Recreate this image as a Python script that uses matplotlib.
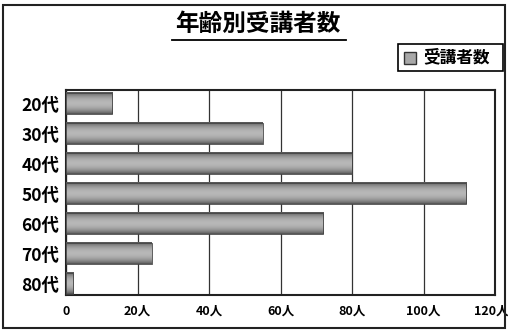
import numpy as np
import matplotlib
matplotlib.use("Agg")
import matplotlib.pyplot as plt
from matplotlib.patches import Rectangle
from matplotlib.lines import Line2D
from matplotlib.transforms import ScaledTranslation

plt.rcParams['font.family'] = ['Noto Sans CJK JP', 'DejaVu Sans']

categories = ["20代", "30代", "40代", "50代", "60代", "70代", "80代"]
values = [13, 55, 80, 112, 72, 24, 2]
xticks = [0, 20, 40, 60, 80, 100, 120]
xticklabels = ["0", "20人", "40人", "60人", "80人", "100人", "120人"]
title = "年齢別受講者数"
series_name = "受講者数"

fig = plt.figure(figsize=(5.08, 3.33), dpi=100)
ax = fig.add_axes([66/508, 1-295/333, (495-66)/508, (295-90)/333])

# vertical gradient for cylinder-like bars
t = np.linspace(0, 1, 64)
shade = 0.30 + 0.42 * np.sin(np.pi * t) ** 0.7
grad = shade[:, None]
h = 0.7
for i, v in enumerate(values):
    ax.imshow(grad, cmap='gray', vmin=0, vmax=1, aspect='auto',
              extent=[0, v, i + h/2, i - h/2], interpolation='bilinear', zorder=3)
    ax.add_patch(Rectangle((0, i - h/2), v, h, fill=False, edgecolor='#444444', lw=0.6, zorder=4))

ax.set_xlim(0, 120)
ax.set_ylim(6.38, -0.45)
ax.set_xticks(xticks)
ax.set_xticklabels(xticklabels, fontsize=9, fontweight='bold')
ax.set_yticks(range(len(categories)))
ax.set_yticklabels(categories, fontsize=12.5, fontweight='bold')
ax.tick_params(length=0, pad=5)
ax.tick_params(axis='x', pad=7)
lbls = ax.get_xticklabels()
lbls[-1].set_transform(lbls[-1].get_transform() + ScaledTranslation(-4/100, 0, fig.dpi_scale_trans))
ax.grid(axis='x', color='#333333', lw=0.9, zorder=1)
ax.set_axisbelow(True)
for s in ax.spines.values():
    s.set_linewidth(1.5)
    s.set_color('#222222')

# title with underline
fig.text(258/508, 1-24/333, title, ha='center', va='center', fontsize=17, fontweight='bold')
fig.add_artist(Line2D([172/508, 346/508], [1-40/333, 1-40/333], color='black', lw=1.3))

# legend box
fig.add_artist(Rectangle((398/508, 1-71/333), 105/508, 27/333, transform=fig.transFigure,
                         fill=False, edgecolor='black', lw=1.2))
fig.add_artist(Rectangle((404/508, 1-64/333), 12/508, 12/333, transform=fig.transFigure,
                         facecolor='#a8a8a8', edgecolor='#333333', lw=1.0))
fig.text(423/508, 1-57.5/333, series_name, ha='left', va='center', fontsize=12, fontweight='bold')

# outer border
fig.add_artist(Rectangle((3/508, 1-328/333), 502/508, 323/333, transform=fig.transFigure,
                         fill=False, edgecolor='#222222', lw=1.5))

fig.savefig("out.png", dpi=100)
